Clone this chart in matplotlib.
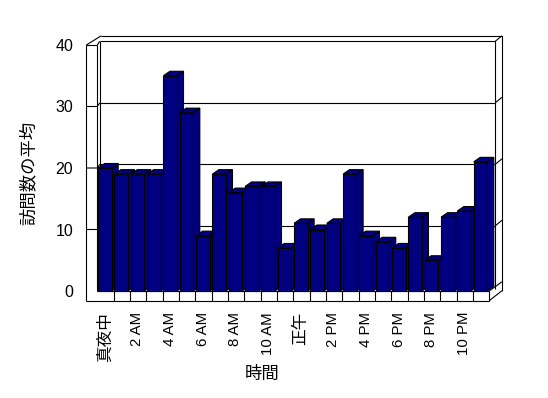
import matplotlib
matplotlib.use("Agg")
import matplotlib.pyplot as plt
from matplotlib.patches import Polygon

plt.rcParams['font.family'] = ['Liberation Sans', 'Noto Sans CJK JP']

# data
hour_labels = ['真夜中', '2 AM', '4 AM', '6 AM', '8 AM', '10 AM',
               '正午', '2 PM', '4 PM', '6 PM', '8 PM', '10 PM']
visits = [20, 19, 19, 19, 35, 29, 9, 19, 16, 17, 17, 7,
          11, 10, 11, 19, 9, 8, 7, 12, 5, 12, 13, 21]
yticks = [0, 10, 20, 30, 40]

NAVY = '#000080'
LW = 0.8

# pixel layout of the front plane (image coords, y down)
W, H = 548, 398
AX_L, AX_R, AX_T, AX_B = 80, 510, 30, 305
X0_PX, SX = 97.3, 16.33     # x px of category 0 edge, px per category
Y0_PX, SY = 291, 6.15       # y px of value 0, px per unit

fig = plt.figure(figsize=(W / 100, H / 100), dpi=100)
ax = fig.add_axes([AX_L / W, (H - AX_B) / H, (AX_R - AX_L) / W, (AX_B - AX_T) / H])
ax.set_xlim((AX_L - X0_PX) / SX, (AX_R - X0_PX) / SX)
ax.set_ylim((Y0_PX - AX_B) / SY, (Y0_PX - AX_T) / SY)
for s in ax.spines.values():
    s.set_visible(False)

n = len(visits)
top = yticks[-1]

# depth offsets (data units)
ddx, ddy = 6.5 / SX, 4.5 / SY   # bars
wdx, wdy = 0.37, 0.6            # back wall face
odx, ody = 0.78, 1.5            # outer back edge
lw_x = -0.674                   # left wall outer edge
fl_y = -1.58                    # floor front bottom

def line(xs, ys, z=1):
    ax.plot(xs, ys, color='black', lw=LW, zorder=z, solid_capstyle='butt')

# back wall with gridlines
line([0.15, n + wdx, n + wdx], [top + wdy, top + wdy, 0.3])
line([0.15, 0.15], [top + wdy, 0])
for t in yticks[1:-1]:
    line([0.15, n + wdx], [t + wdy, t + wdy])
    line([n + wdx, n + odx], [t + wdy, t + wdy + 0.9])
line([0.245, n + odx, n + odx], [top + ody, top + ody, 0.05])
line([n + wdx, n + odx], [top + wdy, top + ody])

# left wall
line([lw_x, lw_x], [fl_y, top])
line([0, 0], [0, top])
line([lw_x, 0], [top, top])
line([lw_x, 0.245], [top, top + ody])
line([0, 0.15], [top, top + wdy])
for t in yticks[1:-1]:
    line([lw_x, 0, 0.15], [t, t, t + wdy])

# floor
line([0, n], [0, 0])
line([lw_x, n], [fl_y, fl_y])
for k in range(1, n + 1):
    line([k, k], [fl_y, 0])
line([n, n + odx], [fl_y, 0.05])
line([n, n + odx], [0, 1.5])

# bars
bw, off = 0.83, 0.05
xs = [i + off for i in range(n)]
bars = ax.bar(xs, visits, width=bw, align='edge', color=NAVY,
              edgecolor='black', linewidth=LW)
for i, (b, x, v) in enumerate(zip(bars, xs, visits)):
    z = 3 + i * 0.01
    x1 = x + bw
    side = Polygon([(x1, 0), (x1 + ddx, ddy), (x1 + ddx, v + ddy), (x1, v)],
                   closed=True, facecolor=NAVY, edgecolor='black', lw=LW, zorder=z)
    cap = Polygon([(x, v), (x + ddx, v + ddy), (x1 + ddx, v + ddy), (x1, v)],
                  closed=True, facecolor=NAVY, edgecolor='black', lw=LW, zorder=z)
    ax.add_patch(side)
    ax.add_patch(cap)
    b.set_zorder(z + 0.005)

# ticks
ax.set_yticks(yticks)
ax.set_yticklabels([str(t) for t in yticks], fontsize=11.5)
ax.set_xticks([2 * j + 0.46 for j in range(len(hour_labels))])
ax.set_xticklabels(hour_labels, rotation=90, va='top', ha='center')
for lab in ax.get_xticklabels():
    lab.set_fontsize(10.8 if lab.get_text().isascii() else 12)
ax.tick_params(length=0)
ax.tick_params(axis='y', pad=4.8)
ax.tick_params(axis='x', pad=5)

fig.text(28 / W, 1 - 173 / H, '訪問数の平均', rotation=90, ha='center',
         va='center', fontsize=12.5)
fig.text(262 / W, 1 - 374 / H, '時間', ha='center', va='center', fontsize=12.5)

fig.savefig('out.png', dpi=100, facecolor='white')
